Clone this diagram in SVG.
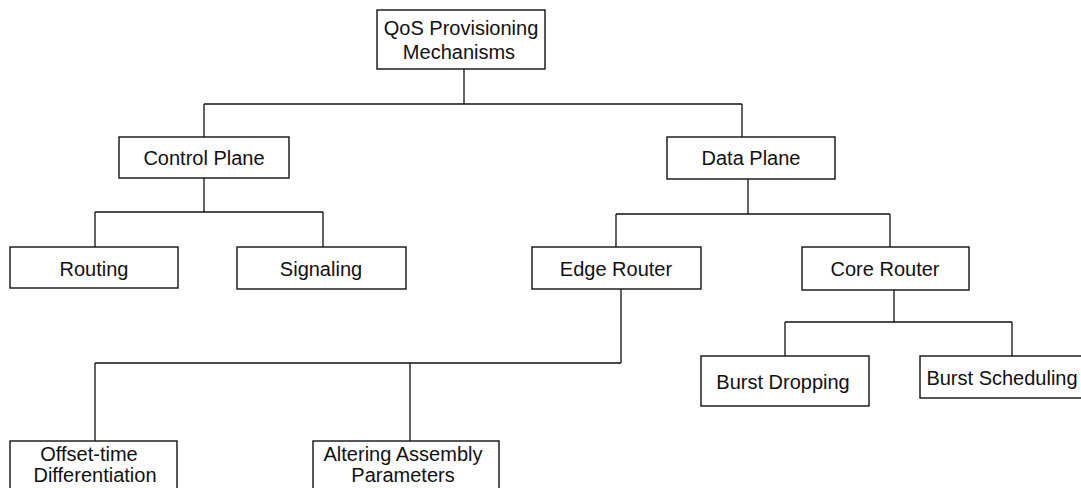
<svg xmlns="http://www.w3.org/2000/svg" width="1081" height="488" viewBox="0 0 1081 488">
<style>
rect{fill:#fff;stroke:#111;stroke-width:1.4}
text{font-family:"Liberation Sans",Arial,sans-serif;font-size:20px;fill:#111;text-anchor:middle}
#connectors path{fill:none;stroke:#111;stroke-width:1.3}
</style>
<rect x="0" y="0" width="1081" height="488" style="stroke:none"/>
<g id="connectors">
<path d="M464 69V104M204 104H742M204 104V137M742 104V137"/>
<path d="M204 178V212M95 212H323M95 212V247M323 212V247"/>
<path d="M748 179V214M616 214H890M616 214V247M890 214V247"/>
<path d="M621 289V363M95 363H621M95 363V441M410 363V441"/>
<path d="M894 290V322M785 322H1012M785 322V356M1012 322V356"/>
</g>
<g id="qos"><rect x="377" y="10" width="168" height="59"/><text x="461" y="35">QoS Provisioning</text><text x="459" y="59">Mechanisms</text></g>
<g id="control"><rect x="119" y="137" width="170" height="41"/><text x="204" y="165">Control Plane</text></g>
<g id="data"><rect x="667" y="137" width="168" height="42"/><text x="751" y="165">Data Plane</text></g>
<g id="routing"><rect x="10" y="247" width="168" height="41"/><text x="94" y="276">Routing</text></g>
<g id="signaling"><rect x="237" y="247" width="169" height="42"/><text x="321" y="276">Signaling</text></g>
<g id="edge"><rect x="532" y="247" width="169" height="42"/><text x="616" y="276">Edge Router</text></g>
<g id="core"><rect x="802" y="247" width="167" height="43"/><text x="885" y="276">Core Router</text></g>
<g id="offset"><rect x="10" y="441" width="167" height="60"/><text x="89" y="461">Offset-time</text><text x="95" y="482">Differentiation</text></g>
<g id="altering"><rect x="313" y="441" width="186" height="60"/><text x="403" y="461">Altering Assembly</text><text x="403" y="482">Parameters</text></g>
<g id="dropping"><rect x="701" y="356" width="168" height="50"/><text x="783" y="389">Burst Dropping</text></g>
<g id="scheduling"><rect x="920" y="356" width="170" height="42"/><text x="1002" y="385">Burst Scheduling</text></g>
</svg>
